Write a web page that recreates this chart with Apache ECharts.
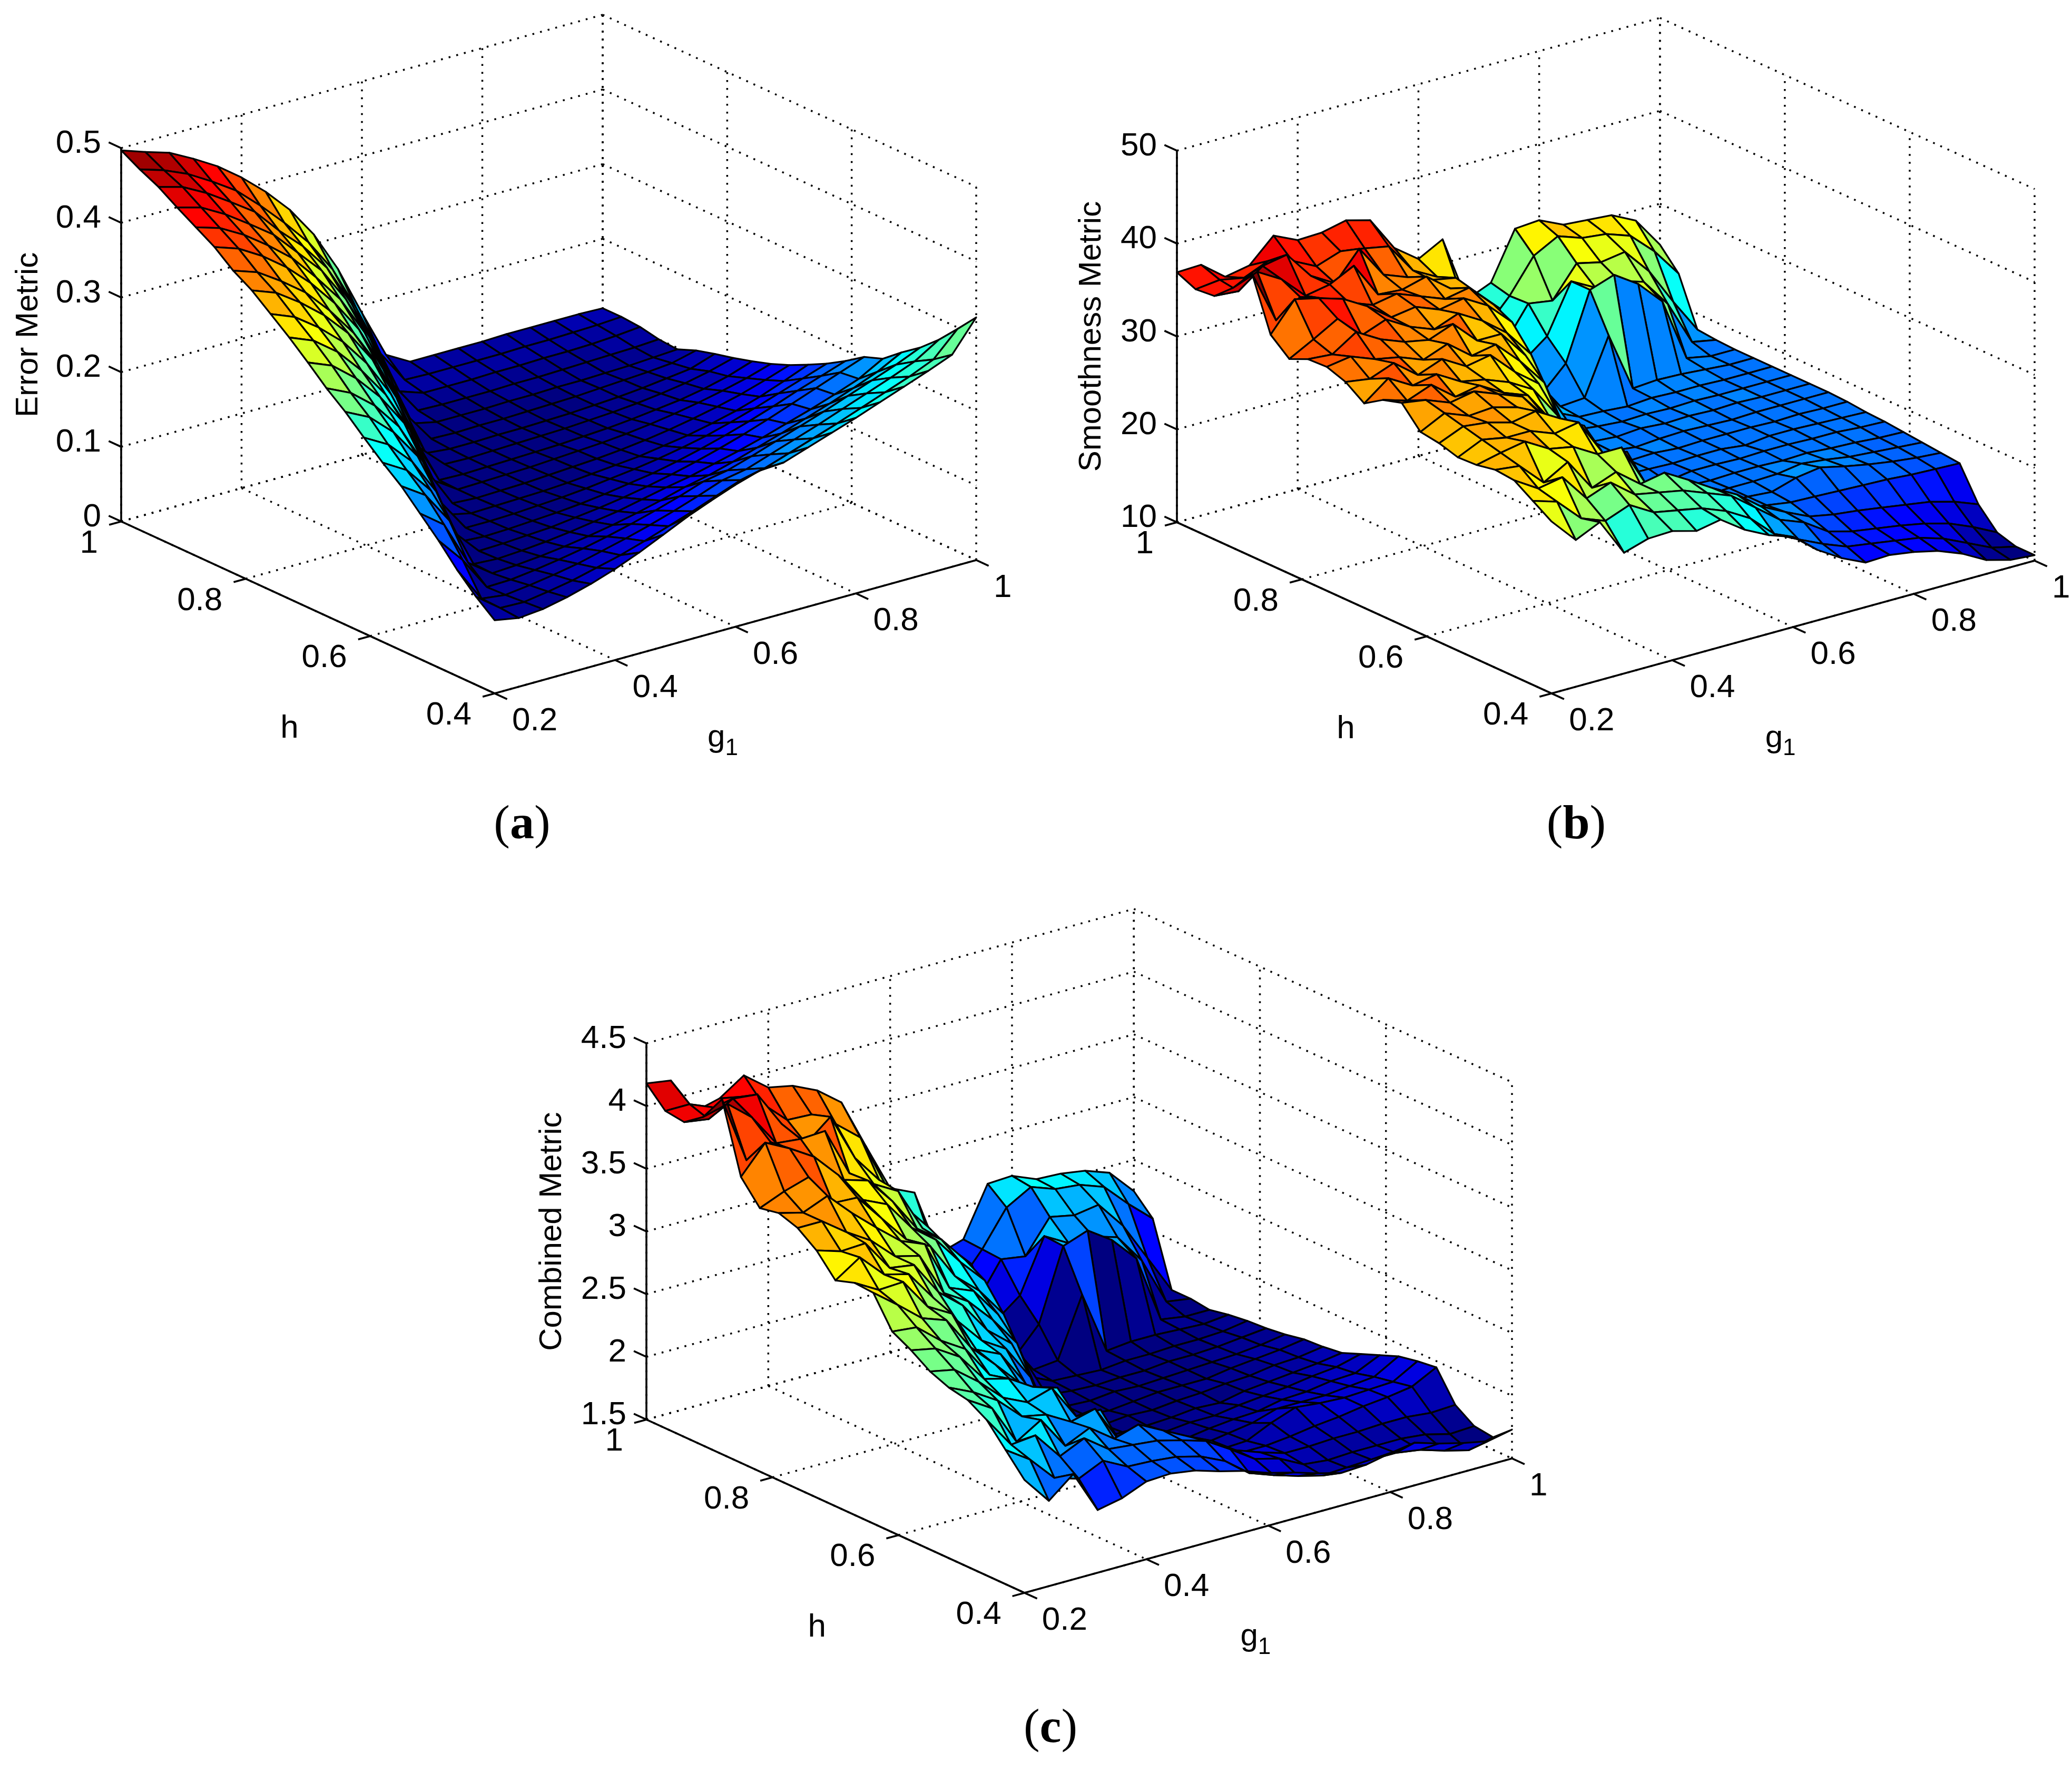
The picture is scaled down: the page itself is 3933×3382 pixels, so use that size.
<!DOCTYPE html>
<html><head><meta charset="utf-8"><title>Error, smoothness and combined metric surfaces</title>
<style>html,body{margin:0;background:#fff}#c{width:3933px;height:3382px}</style>
<script src="https://cdn.jsdelivr.net/npm/echarts@6/dist/echarts.min.js"></script></head>
<body><div id="c"></div><script>
const g1Values=[0.2,0.24,0.28,0.32,0.36,0.4,0.44,0.48,0.52,0.56,0.6,0.64,0.68,0.72,0.76,0.8,0.84,0.88,0.92,0.96,1];
const hValues=[1,0.97,0.94,0.91,0.88,0.85,0.82,0.79,0.76,0.73,0.7,0.67,0.64,0.61,0.58,0.55,0.52,0.49,0.46,0.43,0.4];
const g1Ticks=[0.2,0.4,0.6,0.8,1];
const hTicks=[1,0.8,0.6,0.4];
const errorTicks=[0,0.1,0.2,0.3,0.4,0.5];
const smoothTicks=[10,20,30,40,50];
const combinedTicks=[1.5,2,2.5,3,3.5,4,4.5];
const errorMetric=[
[.497,.486,.476,.459,.440,.416,.388,.355,.313,.258,.190,.125,.107,.107,.107,.107,.108,.108,.108,.108,.107],
[.483,.473,.459,.440,.419,.390,.358,.323,.278,.216,.147,.103,.102,.102,.102,.102,.103,.103,.104,.105,.107],
[.471,.462,.445,.424,.402,.368,.338,.300,.244,.177,.108,.097,.097,.097,.098,.098,.099,.099,.100,.102,.105],
[.455,.446,.428,.406,.383,.350,.317,.270,.209,.136,.094,.093,.093,.093,.094,.094,.095,.096,.097,.098,.100],
[.440,.430,.412,.389,.363,.328,.290,.237,.165,.097,.090,.090,.090,.091,.091,.092,.092,.093,.094,.096,.098],
[.425,.414,.395,.371,.341,.305,.261,.199,.128,.088,.087,.088,.088,.089,.090,.091,.093,.095,.097,.100,.108],
[.405,.394,.373,.349,.316,.277,.226,.155,.089,.086,.086,.087,.087,.088,.089,.091,.093,.096,.100,.104,.115],
[.390,.378,.356,.330,.297,.253,.193,.116,.086,.085,.086,.087,.088,.089,.091,.093,.096,.100,.105,.112,.121],
[.370,.357,.334,.306,.268,.218,.145,.085,.084,.085,.086,.087,.088,.090,.092,.095,.099,.103,.109,.117,.128],
[.350,.337,.313,.279,.238,.182,.105,.084,.085,.086,.087,.089,.091,.093,.096,.100,.105,.111,.118,.126,.136],
[.328,.315,.289,.255,.211,.136,.086,.084,.085,.086,.088,.090,.092,.095,.099,.104,.110,.117,.125,.135,.146],
[.305,.290,.264,.227,.171,.091,.084,.085,.086,.087,.089,.092,.095,.098,.103,.108,.115,.123,.133,.145,.158],
[.285,.269,.240,.199,.127,.085,.085,.086,.088,.090,.093,.097,.101,.106,.112,.119,.128,.138,.149,.160,.171],
[.262,.244,.212,.163,.087,.085,.086,.088,.090,.093,.097,.102,.107,.114,.122,.131,.141,.152,.164,.175,.186],
[.240,.221,.185,.119,.086,.087,.089,.091,.095,.099,.104,.110,.117,.125,.134,.144,.155,.167,.179,.191,.203],
[.220,.199,.156,.089,.087,.089,.092,.096,.101,.106,.113,.120,.126,.134,.142,.151,.161,.171,.182,.194,.212],
[.195,.171,.111,.088,.090,.093,.097,.102,.108,.115,.123,.132,.139,.148,.158,.168,.179,.190,.202,.215,.232],
[.170,.135,.090,.091,.095,.100,.106,.113,.121,.130,.140,.151,.157,.167,.178,.189,.200,.212,.224,.236,.250],
[.142,.095,.091,.095,.100,.106,.114,.122,.131,.141,.152,.164,.170,.181,.192,.203,.215,.227,.239,.252,.272],
[.118,.094,.093,.098,.104,.112,.120,.130,.141,.152,.164,.176,.183,.194,.205,.216,.228,.240,.252,.266,.298],
[.098,.092,.095,.102,.111,.122,.135,.150,.165,.178,.190,.200,.202,.213,.224,.235,.247,.259,.271,.284,.325]];
const smoothnessMetric=[
[36.9,37.0,35.0,35.5,38.0,36.8,36.9,37.5,36.8,33.1,31.2,32.6,25.4,26.5,31.6,31.8,30.6,30.4,30.2,28.9,25.6],
[36.0,36.3,35.8,36.9,36.2,34.9,35.8,35.4,34.9,31.6,30.2,27.5,23.2,26.0,29.6,31.0,30.1,29.8,28.9,26.5,23.4],
[36.2,36.0,38.0,38.5,35.5,34.0,37.0,33.5,32.5,31.5,31.0,26.0,22.4,26.1,25.7,29.0,28.4,28.8,26.0,22.0,18.3],
[38.0,39.0,37.5,35.0,35.5,36.8,33.0,32.8,33.5,31.5,30.5,28.0,21.5,23.5,28.7,27.3,27.3,26.5,23.4,18.6,18.1],
[40.5,34.7,36.5,35.6,34.5,33.5,34.0,33.0,32.0,32.5,30.0,25.0,18.9,21.5,28.7,29.6,27.9,25.3,18.5,18.0,18.0],
[34.8,37.9,37.3,36.5,35.0,33.1,33.5,32.5,33.0,31.5,29.0,22.0,18.5,18.7,24.7,18.3,18.5,18.4,18.2,18.0,18.0],
[33.1,34.5,36.0,33.5,34.5,33.0,32.0,33.0,31.5,29.5,26.5,19.5,18.3,18.2,18.0,18.2,18.1,18.1,18.0,18.0,18.0],
[34.0,33.8,35.5,34.0,33.0,32.5,33.5,31.0,31.0,28.0,23.0,18.5,18.2,18.0,18.1,18.0,18.1,18.0,18.0,18.0,18.0],
[34.1,34.5,33.5,33.0,32.0,33.0,31.0,31.5,29.0,26.0,19.5,18.2,18.0,18.2,18.0,18.1,18.0,18.1,18.0,18.0,18.0],
[33.4,33.0,34.0,32.0,33.0,31.5,32.0,29.5,27.5,22.0,18.3,18.1,17.8,18.0,18.1,18.0,17.9,18.0,18.0,18.0,18.0],
[32.0,34.0,32.5,33.0,31.5,31.0,30.0,28.5,25.0,19.5,18.2,18.0,18.1,17.9,18.0,18.0,18.0,17.9,18.0,17.9,17.9],
[33.3,32.5,33.5,31.5,32.0,30.5,29.5,26.0,21.0,18.4,18.1,18.0,17.9,18.0,18.0,17.7,18.0,18.0,17.9,17.8,17.7],
[33.9,33.5,32.5,33.0,32.0,31.0,28.0,23.0,18.6,18.2,17.9,17.6,18.0,18.0,17.9,18.0,18.0,17.9,17.9,17.7,17.6],
[31.7,33.0,32.0,32.2,31.5,30.0,26.5,19.5,18.3,18.0,18.0,18.0,17.9,18.0,18.0,17.9,18.0,17.8,17.7,17.5,17.4],
[31.4,32.5,32.2,31.5,32.0,30.5,29.0,21.0,18.4,18.1,17.8,17.9,18.0,18.0,18.1,18.5,18.2,17.8,17.6,17.4,17.2],
[30.8,32.0,31.5,31.5,30.5,31.0,27.0,26.4,20.0,18.3,18.0,18.0,18.0,17.8,18.6,19.0,18.4,17.9,17.5,17.2,17.0],
[30.9,31.5,32.0,30.5,30.0,28.5,28.5,23.9,23.0,20.5,18.5,18.3,18.0,17.6,17.5,17.4,17.3,17.2,17.0,16.9,16.8],
[31.3,31.0,28.5,30.0,26.5,27.5,25.5,26.0,24.5,22.9,21.5,19.5,18.2,17.0,16.5,16.2,15.8,15.4,15.0,14.3,13.3],
[31.1,29.5,30.0,27.0,28.0,26.0,25.5,25.0,24.0,23.0,21.0,19.0,18.0,16.3,15.6,15.2,14.8,14.3,13.6,12.5,11.2],
[29.8,29.0,26.5,25.5,26.5,25.0,24.5,24.0,23.0,21.5,19.1,17.8,16.6,15.6,15.2,14.8,14.4,13.6,12.4,11.2,10.6],
[28.5,25.8,27.0,23.0,23.8,23.9,23.2,23.7,21.9,20.6,19.7,17.6,16.0,14.8,14.9,14.5,13.9,12.9,11.5,10.8,10.6]];
const combinedMetric=[
[4.18,4.15,3.85,3.90,4.03,3.88,3.84,3.75,3.60,3.20,2.81,2.72,2.18,2.24,2.63,2.64,2.56,2.55,2.52,2.45,2.25],
[4.03,4.03,3.95,3.98,3.87,3.69,3.68,3.55,3.39,2.97,2.68,2.35,2.00,2.23,2.51,2.62,2.55,2.53,2.46,2.27,2.10],
[4.01,3.98,4.09,4.07,3.78,3.57,3.73,3.35,3.12,2.86,2.64,2.21,1.93,2.22,2.19,2.45,2.41,2.44,2.22,1.91,1.60],
[4.12,4.17,4.01,3.75,3.73,3.74,3.35,3.21,3.10,2.75,2.56,2.36,1.85,2.00,2.42,2.31,2.31,2.25,2.01,1.63,1.60],
[4.33,3.79,3.88,3.75,3.59,3.42,3.36,3.14,2.87,2.73,2.51,2.12,1.63,1.84,2.41,2.48,2.35,2.15,1.61,1.58,1.58],
[3.78,4.00,3.90,3.78,3.58,3.33,3.24,3.00,2.85,2.62,2.42,1.87,1.60,1.62,2.09,1.59,1.61,1.61,1.60,1.59,1.61],
[3.60,3.68,3.74,3.48,3.47,3.25,3.03,2.92,2.63,2.46,2.22,1.67,1.58,1.57,1.56,1.58,1.58,1.59,1.59,1.60,1.63],
[3.63,3.58,3.66,3.47,3.30,3.14,3.06,2.66,2.58,2.34,1.95,1.59,1.57,1.56,1.57,1.57,1.59,1.59,1.60,1.62,1.64],
[3.58,3.58,3.44,3.32,3.14,3.09,2.74,2.62,2.42,2.18,1.67,1.57,1.56,1.58,1.57,1.58,1.59,1.60,1.61,1.63,1.66],
[3.47,3.41,3.42,3.17,3.14,2.87,2.71,2.46,2.30,1.87,1.58,1.57,1.55,1.57,1.59,1.59,1.59,1.62,1.64,1.66,1.69],
[3.30,3.43,3.24,3.19,2.95,2.71,2.50,2.38,2.10,1.67,1.57,1.56,1.58,1.57,1.59,1.60,1.62,1.63,1.66,1.67,1.70],
[3.35,3.24,3.25,3.00,2.89,2.55,2.46,2.18,1.79,1.59,1.57,1.57,1.57,1.58,1.60,1.59,1.63,1.65,1.67,1.69,1.72],
[3.34,3.19,3.03,2.96,2.69,2.50,2.30,1.95,1.60,1.58,1.56,1.55,1.59,1.61,1.61,1.64,1.66,1.68,1.71,1.73,1.78],
[3.10,3.08,2.92,2.80,2.54,2.42,2.18,1.68,1.59,1.57,1.58,1.59,1.60,1.63,1.65,1.66,1.70,1.71,1.74,1.75,1.84],
[3.02,2.98,2.86,2.63,2.58,2.46,2.40,1.80,1.61,1.59,1.58,1.61,1.63,1.66,1.69,1.75,1.75,1.75,1.77,1.79,1.90],
[2.92,2.88,2.73,2.55,2.46,2.52,2.24,2.24,1.75,1.63,1.62,1.64,1.66,1.67,1.76,1.83,1.81,1.80,1.81,1.82,1.93],
[2.86,2.77,2.65,2.47,2.43,2.32,2.37,2.06,2.01,1.83,1.69,1.70,1.70,1.70,1.72,1.75,1.77,1.80,1.82,1.85,1.95],
[2.83,2.71,2.39,2.51,2.25,2.34,2.20,2.26,2.16,2.06,1.97,1.84,1.77,1.71,1.71,1.72,1.72,1.73,1.73,1.71,1.72],
[2.74,2.49,2.51,2.29,2.38,2.24,2.22,2.20,2.15,2.09,1.97,1.84,1.79,1.69,1.67,1.68,1.68,1.68,1.66,1.61,1.62],
[2.57,2.44,2.24,2.18,2.27,2.17,2.16,2.14,2.09,2.00,1.85,1.78,1.72,1.67,1.68,1.69,1.69,1.66,1.60,1.55,1.60],
[2.40,2.18,2.34,2.00,2.04,2.12,2.13,2.10,2.04,1.99,1.92,1.87,1.81,1.76,1.77,1.81,1.84,1.78,1.73,1.69,1.73]];

const AZ=37.8*Math.PI/180, EL=21*Math.PI/180, Z_HEIGHT=0.615;
const cosA=Math.cos(AZ), sinA=Math.sin(AZ), sinE=Math.sin(EL);
const SANS='"Liberation Sans", Arial, sans-serif', SERIF='"Liberation Serif", "Times New Roman", serif';
const TICK_FONT=62, NAME_FONT=60;

const panels=[
 {values:errorMetric,ticks:errorTicks,zName:'Error Metric',letter:'a',tickFmt:v=>String(v),
  grid:{left:230,top:28,width:1623,height:1288},zNameDx:-176,cap:[991,1573]},
 {values:smoothnessMetric,ticks:smoothTicks,zName:'Smoothness Metric',letter:'b',tickFmt:v=>String(v),
  grid:{left:2234,top:34,width:1628,height:1282},zNameDx:-162,cap:[2992,1573]},
 {values:combinedMetric,ticks:combinedTicks,zName:'Combined Metric',letter:'c',tickFmt:v=>String(v),
  grid:{left:1227,top:1725,width:1643,height:1298},zNameDx:-179,cap:[1994,3288]}
];
panels.forEach(p=>{
  const all=p.values.flat();
  p.cmin=Math.min(...all);p.cmax=Math.max(...all);
  p.zmin=p.ticks[0];p.zmax=p.ticks[p.ticks.length-1];
});
function project(p,g,h,z){
  const gn=(g-0.2)/0.8, hn=(1-h)/0.6, zn=(z-p.zmin)/(p.zmax-p.zmin);
  return [gn*cosA+hn*sinA, gn*sinA*sinE-hn*cosA*sinE+zn*Z_HEIGHT];
}
function jet(t){
  t=Math.max(0,Math.min(63,Math.floor(t*64)))/63;
  const c=v=>Math.round(255*Math.max(0,Math.min(1,v)));
  const r=1.5-Math.abs(4*t-3), gg=1.5-Math.abs(4*t-2), b=1.5-Math.abs(4*t-1);
  return 'rgb('+c(r)+','+c(gg)+','+c(b)+')';
}
const series=[],grids=[],xAxes=[],yAxes=[],titles=[];
panels.forEach((p,k)=>{
  grids.push(Object.assign({containLabel:false},p.grid));
  xAxes.push({type:'value',gridIndex:k,min:0,max:cosA+sinA,show:false,scale:true});
  yAxes.push({type:'value',gridIndex:k,min:-cosA*sinE,max:sinA*sinE+Z_HEIGHT,show:false,scale:true});
  const dotted=[],solid=[];
  const gLo=0.2,gHi=1,hLo=0.4,hHi=1,zLo=p.zmin,zHi=p.zmax;
  p.ticks.forEach(z=>{dotted.push([gLo,hHi,z,gHi,hHi,z]);dotted.push([gHi,hHi,z,gHi,hLo,z]);});
  g1Ticks.forEach(g=>{dotted.push([g,hHi,zLo,g,hHi,zHi]);dotted.push([g,hHi,zLo,g,hLo,zLo]);});
  hTicks.forEach(h=>{dotted.push([gHi,h,zLo,gHi,h,zHi]);dotted.push([gLo,h,zLo,gHi,h,zLo]);});
  solid.push([gLo,hHi,zLo,gLo,hHi,zHi],[gLo,hHi,zLo,gLo,hLo,zLo],[gLo,hLo,zLo,gHi,hLo,zLo]);
  p.ticks.forEach(z=>solid.push([gLo,hHi,z,gLo,hHi+0.02,z]));
  hTicks.forEach(h=>solid.push([gLo,h,zLo,gLo-0.02,h,zLo]));
  g1Ticks.forEach(g=>solid.push([g,hLo,zLo,g,hLo-0.02,zLo]));
  const segs=dotted.map(s=>s.concat(1)).concat(solid.map(s=>s.concat(0)));
  series.push({type:'custom',coordinateSystem:'cartesian2d',xAxisIndex:k,yAxisIndex:k,clip:false,silent:true,animation:false,
    data:segs.map((s,i)=>[i,0]),
    renderItem:(params,api)=>{
      const s=segs[api.value(0)];
      const a=api.coord(project(p,s[0],s[1],s[2])), b=api.coord(project(p,s[3],s[4],s[5]));
      return {type:'line',shape:{x1:a[0],y1:a[1],x2:b[0],y2:b[1]},
        style:s[6]?{stroke:'#000',lineWidth:3.5,lineDash:[3.5,11.5]}:{stroke:'#000',lineWidth:3.6}};
    }});
  const cells=[];
  for(let j=0;j<20;j++)for(let i=19;i>=0;i--)cells.push([i,j]);
  series.push({type:'custom',coordinateSystem:'cartesian2d',xAxisIndex:k,yAxisIndex:k,clip:false,silent:true,animation:false,
    data:cells,
    renderItem:(params,api)=>{
      const i=api.value(0),j=api.value(1),V=p.values;
      const pts=[[i,j],[i+1,j],[i+1,j+1],[i,j+1]].map(q=>api.coord(project(p,g1Values[q[0]],hValues[q[1]],V[q[1]][q[0]])));
      return {type:'polygon',shape:{points:pts},
        style:{fill:jet((V[j+1][i]-p.cmin)/(p.cmax-p.cmin)),stroke:'#000',lineWidth:3.3,lineJoin:'round'}};
    }});
  const labels=[];
  p.ticks.forEach(z=>labels.push({at:[0.2,1,z],dx:-38,dy:-8,text:p.tickFmt(z),align:'right'}));
  hTicks.forEach(h=>labels.push({at:[0.2,h,p.zmin],dx:-44,dy:42,text:String(h),align:'right'}));
  g1Ticks.forEach(g=>labels.push({at:[g,0.4,p.zmin],dx:33,dy:53,text:String(g),align:'left'}));
  labels.push({at:[0.2,0.7,p.zmin],dx:-35,dy:230,text:'h',align:'center'});
  labels.push({at:[0.6,0.4,p.zmin],dx:-24,dy:216,text:'{g|g}{s|1}',align:'center',rich:{
     g:{fontSize:NAME_FONT,fontFamily:SANS,fill:'#000',verticalAlign:'top',lineHeight:70},
     s:{fontSize:44,fontFamily:SANS,fill:'#000',verticalAlign:'top',padding:[28,0,0,0],lineHeight:44}}});
  labels.push({at:[0.2,1,(p.zmin+p.zmax)/2],dx:p.zNameDx,dy:0,text:p.zName,align:'center',rot:Math.PI/2});
  series.push({type:'custom',coordinateSystem:'cartesian2d',xAxisIndex:k,yAxisIndex:k,clip:false,silent:true,animation:false,
    data:labels.map((l,i)=>[i,0]),
    renderItem:(params,api)=>{
      const l=labels[api.value(0)], c=api.coord(project(p,l.at[0],l.at[1],l.at[2]));
      const st={text:l.text,fill:'#000',font:TICK_FONT+'px '+SANS,align:l.align,verticalAlign:'middle'};
      if(l.rich)st.rich=l.rich;
      if(l.rot)st.font=NAME_FONT+'px '+SANS;
      return {type:'text',x:c[0]+l.dx,y:c[1]+l.dy,rotation:l.rot||0,style:st};
    }});
  titles.push({text:'{p|(}{b|'+p.letter+'}{p|)}',left:p.cap[0],top:p.cap[1]-52,textAlign:'center',padding:0,
    textStyle:{rich:{p:{fontFamily:SERIF,fontSize:92,color:'#000',fontWeight:'normal'},b:{fontFamily:SERIF,fontSize:92,color:'#000',fontWeight:'bold'}}}});
});
const chart=echarts.init(document.getElementById('c'),null,{renderer:'canvas',width:3933,height:3382});
chart.setOption({backgroundColor:'#fff',animation:false,title:titles,grid:grids,xAxis:xAxes,yAxis:yAxes,series:series});
</script></body></html>
